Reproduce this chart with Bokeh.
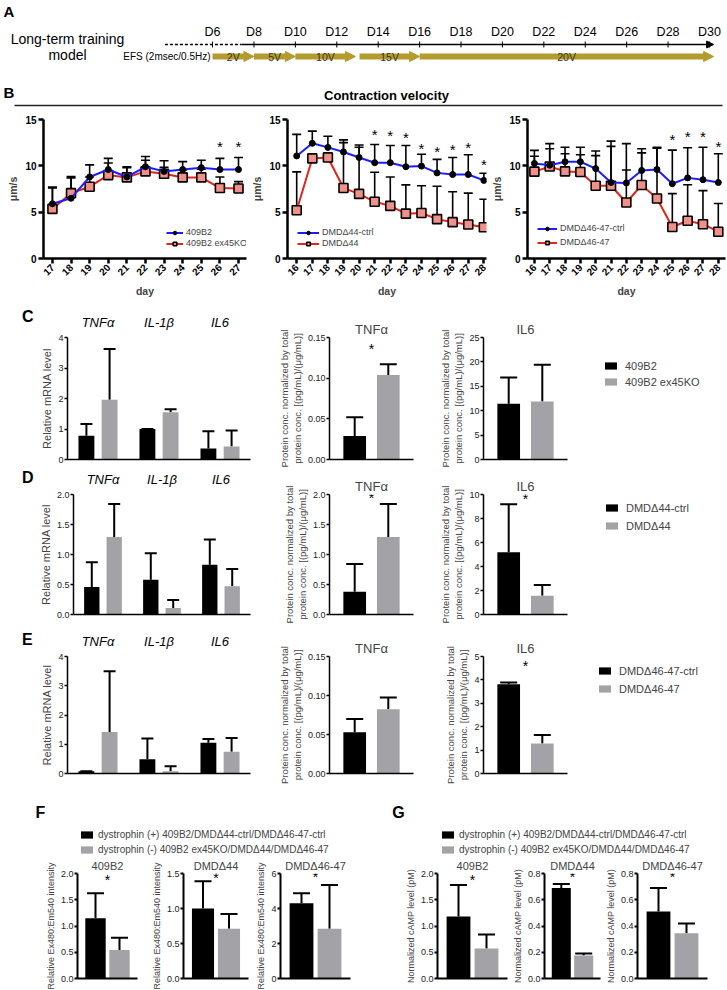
import math
from bokeh.plotting import figure
from bokeh.models import (ColumnDataSource, Range1d, Whisker, TeeHead, Label, LinearAxis, Div,
                          Legend, LegendItem, FixedTicker, Arrow, NormalHead, NumeralTickFormatter)
from bokeh.layouts import column, row
from bokeh.transform import dodge
from bokeh.core.properties import value
from bokeh.embed import file_html
from bokeh.resources import INLINE

FONT = "Liberation Sans"
BLACK = "#000000"
GRAY = "#a3a3a7"
BLUE = "#1c1cff"
RED = "#e2231a"
GOLD = "#b39b2d"
SQUARE_FILL = "#f09088"

# ---------------- Panel A : timeline ----------------
timeline_days = [6, 8, 10, 12, 14, 16, 18, 20, 22, 24, 26, 28, 30]
timeline_labels = ["D6", "D8", "D10", "D12", "D14", "D16", "D18", "D20", "D22", "D24", "D26", "D28", "D30"]
preculture_days = [3.7, 7.4]
timeline_end = 30.2
efs_start = [6, 8, 10, 13.1, 16]
efs_end = [8, 10, 12.9, 16, 30.2]
efs_labels = ["2V", "5V", "10V", "15V", "20V"]

# ---------------- Panel B : contraction velocity ----------------
b1_days = [17, 18, 19, 20, 21, 22, 23, 24, 25, 26, 27]
b1_ctrl = [5.9, 6.5, 8.8, 9.6, 8.8, 9.9, 9.4, 9.6, 9.8, 9.6, 9.6]
b1_ctrl_sd = [1.8, 2.2, 1.3, 1.2, 1.1, 1.1, 1.15, 0.85, 0.8, 1.2, 1.3]
b1_ko = [5.35, 7.05, 7.75, 9.0, 8.75, 9.4, 9.15, 8.75, 8.75, 7.6, 7.55]
b1_ko_sd = [2.25, 1.8, 1.05, 1.3, 1.05, 1.2, 0.7, 0.8, 0.9, 1.2, 0.75]
b1_star_days = [26, 27]
b1_star_y = [12.1, 12.1]
b1_names = ["409B2", "409B2 ex45KO"]

b2_days = [16, 17, 18, 19, 20, 21, 22, 23, 24, 25, 26, 27, 28]
b2_ctrl = [11.07, 12.43, 11.99, 11.5, 10.9, 10.34, 10.34, 9.9, 9.97, 9.24, 9.06, 9.06, 8.43]
b2_ctrl_sd = [2.33, 1.32, 1.21, 1.3, 1.35, 1.96, 1.86, 2.3, 1.28, 1.46, 1.84, 2.14, 0.77]
b2_ko = [5.2, 10.8, 10.9, 7.6, 6.97, 6.12, 5.68, 4.84, 4.91, 4.25, 3.92, 3.67, 3.37]
b2_ko_sd = [4.15, 0.5, 0.5, 4.9, 5.03, 3.18, 3.12, 3.11, 2.94, 3.55, 3.28, 3.38, 3.03]
b2_star_days = [21, 22, 23, 24, 25, 26, 27, 28]
b2_star_y = [13.4, 13.3, 13.1, 11.9, 11.6, 11.8, 12.0, 10.1]
b2_names = ["DMDΔ44-ctrl", "DMDΔ44"]

b3_days = [16, 17, 18, 19, 20, 21, 22, 23, 24, 25, 26, 27, 28]
b3_ctrl = [10.26, 10.07, 10.44, 10.44, 9.7, 8.2, 8.15, 9.5, 9.6, 8.07, 8.7, 8.5, 8.2]
b3_ctrl_sd = [1.41, 2.33, 1.56, 1.56, 1.9, 4.47, 4.25, 2.35, 2.4, 3.63, 3.25, 3.5, 3.1]
b3_ko = [9.37, 9.93, 9.4, 9.33, 7.85, 7.85, 6.04, 7.93, 6.48, 3.4, 4.07, 3.7, 2.89]
b3_ko_sd = [1.67, 1.92, 1.9, 1.87, 3.25, 4.25, 3.51, 3.47, 5.42, 3.6, 3.89, 3.63, 3.04]
b3_star_days = [25, 26, 27, 28]
b3_star_y = [12.8, 13.15, 13.15, 12.1]
b3_names = ["DMDΔ46-47-ctrl", "DMDΔ46-47"]

# ---------------- Panels C-E : cytokines ----------------
genes = ["TNFα", "IL-1β", "IL6"]

c_names = ["409B2", "409B2 ex45KO"]
c_mrna_ctrl = [0.78, 1.0, 0.36]
c_mrna_ctrl_sd = [0.38, 0.0, 0.57]
c_mrna_ko = [1.96, 1.55, 0.43]
c_mrna_ko_sd = [1.66, 0.1, 0.52]
c_tnf = [0.029, 0.104]
c_tnf_sd = [0.023, 0.013]
c_tnf_star = 0.136
c_il6 = [11.4, 11.9]
c_il6_sd = [5.4, 7.5]

d_names = ["DMDΔ44-ctrl", "DMDΔ44"]
d_mrna_ctrl = [0.46, 0.58, 0.83]
d_mrna_ctrl_sd = [0.41, 0.44, 0.42]
d_mrna_ko = [1.29, 0.11, 0.47]
d_mrna_ko_sd = [0.55, 0.13, 0.29]
d_tnf = [0.38, 1.29]
d_tnf_sd = [0.46, 0.55]
d_tnf_star = 1.95
d_il6 = [5.19, 1.57]
d_il6_sd = [4.0, 0.89]
d_il6_star = 9.6

e_names = ["DMDΔ46-47-ctrl", "DMDΔ46-47"]
e_mrna_ctrl = [0.08, 0.49, 1.05]
e_mrna_ctrl_sd = [0.0, 0.71, 0.13]
e_mrna_ko = [1.42, 0.08, 0.74]
e_mrna_ko_sd = [2.08, 0.17, 0.47]
e_tnf = [0.053, 0.0825]
e_tnf_sd = [0.017, 0.015]
e_il6 = [3.81, 1.28]
e_il6_sd = [0.08, 0.37]
e_il6_star = 4.6

# ---------------- Panels F-G ----------------
fg_legend = ["dystrophin (+) 409B2/DMDΔ44-ctrl/DMDΔ46-47-ctrl",
             "dystrophin (-) 409B2 ex45KO/DMDΔ44/DMDΔ46-47"]
f_409 = [1.15, 0.545]; f_409_sd = [0.475, 0.23]; f_409_star = 1.88
f_44 = [1.0, 0.71]; f_44_sd = [0.39, 0.21]; f_44_star = 1.44
f_4647 = [4.3, 2.85]; f_4647_sd = [0.57, 2.49]; f_4647_star = 5.8
g_409 = [1.18, 0.57]; g_409_sd = [0.6, 0.27]; g_409_star = 1.88
g_44 = [0.69, 0.175]; g_44_sd = [0.03, 0.015]; g_44_star = 0.77
g_4647 = [0.51, 0.345]; g_4647_sd = [0.18, 0.075]; g_4647_star = 0.77


# ---------------- helpers ----------------
def lab(p, x, y, text, size, style="normal", align="left", baseline="middle", color="black"):
    p.add_layout(Label(x=x, y=y, x_units="screen", y_units="screen", text=text,
                       text_font=FONT, text_font_size=size, text_font_style=style,
                       text_align=align, text_baseline=baseline, text_color=color))


def blank(width, height, x_range=None, y_range=None):
    p = figure(width=width, height=height,
               x_range=x_range if x_range is not None else Range1d(0, 1),
               y_range=y_range if y_range is not None else Range1d(0, 1),
               x_axis_type=None, y_axis_type=None, output_backend="svg",
               toolbar_location=None, min_border=0)
    p.outline_line_color = None
    return p


def letter_div(letter, h, dx, dy):
    return Div(text=('<div style="position:relative; left:%dpx; top:%dpx; font-family:\'%s\';'
                     ' font-weight:bold; font-size:16px; line-height:18px;">%s</div>')
               % (dx, dy, FONT, letter), width=36, height=h, margin=(0, 0, 0, 0))


def add_hi(vals, sds):
    return [v + s for v, s in zip(vals, sds)]


def legend_block(p, labels, loc, font, gw, gh, lh, sp, standoff):
    # key swatches: single off-screen bars so the legend can draw its swatches
    rb = p.vbar(x=[5], top=[1], width=0.1, fill_color=BLACK, line_color=None)
    rg = p.vbar(x=[5], top=[1], width=0.1, fill_color=GRAY, line_color=None)
    lg = Legend(items=[LegendItem(label=labels[0], renderers=[rb]),
                       LegendItem(label=labels[1], renderers=[rg])],
                location=loc, glyph_width=gw, glyph_height=gh, label_height=lh, spacing=sp,
                padding=0, margin=0, label_standoff=standoff, label_text_font=FONT,
                label_text_font_size=font, background_fill_alpha=0, border_line_color=None)
    p.add_layout(lg)


def style_bar_axes(p, y_ticks, ylabel, fmt, tick_size="9px", label_size="11px", lw=1.5,
                   label_standoff=3):
    xa = p.xaxis[0]
    xa.ticker = FixedTicker(ticks=[])
    xa.axis_line_width = lw
    xa.major_tick_line_color = None
    xa.minor_tick_line_color = None
    xa.major_label_standoff = 0
    ya = p.yaxis[0]
    ya.ticker = FixedTicker(ticks=y_ticks)
    ya.formatter = NumeralTickFormatter(format=fmt)
    ya.axis_line_width = lw
    ya.major_tick_line_width = lw
    ya.major_tick_out = 3
    ya.major_tick_in = 0
    ya.minor_tick_line_color = None
    ya.major_label_text_font = FONT
    ya.major_label_text_font_size = tick_size
    ya.major_label_text_color = "#222222"
    ya.major_label_standoff = 1
    ya.axis_label = ylabel
    ya.axis_label_text_font = FONT
    ya.axis_label_text_font_size = label_size
    ya.axis_label_text_font_style = "normal"
    ya.axis_label_standoff = label_standoff
    p.grid.visible = False
    p.outline_line_color = None


# ---------------- Panel A ----------------
A_H = 82
pa = blank(727, A_H, Range1d(-4.24, 30.87), Range1d(A_H, 0))
src_tl = ColumnDataSource(dict(x=timeline_days, t=timeline_labels))
pa.text(x="x", y=31, text="t", source=src_tl, text_font=value(FONT), text_font_size=value("12.5px"),
        text_align="center", text_baseline="middle")
pa.segment(x0="x", y0=41, x1="x", y1=47, source=src_tl, line_color="black", line_width=1)
pa.line(x=preculture_days, y=[44, 44], line_color="black", line_width=1.5, line_dash="3 2")
pa.add_layout(Arrow(x_start=preculture_days[1], y_start=44, x_end=timeline_end, y_end=44,
                    line_color="black", line_width=1.5, level="underlay",
                    end=NormalHead(size=7, fill_color="black", line_color="black")))
src_efs = ColumnDataSource(dict(x0=efs_start, x1=efs_end,
                                xm=[(a + b) / 2 for a, b in zip(efs_start, efs_end)], t=efs_labels))
pa.add_layout(Arrow(source=src_efs, x_start="x0", y_start=56, x_end="x1", y_end=56,
                    line_color=GOLD, line_width=6, level="underlay",
                    end=NormalHead(size=10, fill_color=GOLD, line_color=GOLD)))
pa.text(x="xm", y=56, text="t", source=src_efs, text_font=value(FONT), text_font_size=value("10.5px"),
        text_align="center", text_baseline="middle", text_color="#3a3520")
lab(pa, 3, A_H - 2, "A", "15px", "bold", baseline="top")
lab(pa, 67, A_H - 38, "Long-term training", "14px", align="center")
lab(pa, 67, A_H - 54, "model", "14px", align="center")
lab(pa, 210, A_H - 56, "EFS (2msec/0.5Hz)", "10px", align="right")

# ---------------- Panel B header ----------------
BH_H = 28
pbh = blank(727, BH_H, Range1d(0, 727), Range1d(BH_H, 0))
pbh.segment(x0=[14], y0=[23], x1=[722], y1=[23], line_color="#222222", line_width=1.5)
lab(pbh, 3, BH_H - 1, "B", "15px", "bold", baseline="top")
lab(pbh, 386, BH_H - 13, "Contraction velocity", "13px", "bold", align="center")


def velocity_panel(width, left, days, ctrl, ctrl_sd, ko, ko_sd, star_days, star_y,
                   x_lo, x_hi, names, leg_xy, leg_gw, leg_sp):
    p = figure(width=width, height=190, x_range=Range1d(x_lo, x_hi), y_range=Range1d(0, 15),
               output_backend="svg", toolbar_location=None, min_border_left=left,
               min_border_right=2, min_border_top=9, min_border_bottom=41)
    p.grid.visible = False
    p.outline_line_color = None
    src_c = ColumnDataSource(dict(x=days, y=ctrl, hi=add_hi(ctrl, ctrl_sd)))
    src_k = ColumnDataSource(dict(x=days, y=ko, hi=add_hi(ko, ko_sd)))
    for s in (src_k, src_c):
        p.add_layout(Whisker(source=s, base="x", lower="y", upper="hi", line_color="black",
                             line_width=1.6,
                             upper_head=TeeHead(size=9, line_color="black", line_width=1.6),
                             lower_head=None))
    lk = p.line("x", "y", source=src_k, line_color=RED, line_width=2)
    mk = p.scatter("x", "y", source=src_k, marker="square", size=9, fill_color=SQUARE_FILL,
                   line_color="black", line_width=1.6)
    lc = p.line("x", "y", source=src_c, line_color=BLUE, line_width=2)
    mc = p.scatter("x", "y", source=src_c, marker="circle", size=6, fill_color="black",
                   line_color="black")
    p.text(x=star_days, y=star_y, text=["*"] * len(star_days), text_font=value(FONT),
           text_font_size=value("15px"), text_align="center", text_baseline="middle")
    lg = Legend(items=[LegendItem(label=names[0], renderers=[lc, mc]),
                       LegendItem(label=names[1], renderers=[lk, mk])],
                location=leg_xy, glyph_width=leg_gw, glyph_height=9, label_height=10,
                spacing=leg_sp, padding=0, margin=0, label_standoff=3, label_text_font=FONT,
                label_text_font_size="9px", background_fill_alpha=0, border_line_color=None)
    p.add_layout(lg)
    xa, ya = p.xaxis[0], p.yaxis[0]
    for ax in (xa, ya):
        ax.axis_line_width = 2.5
        ax.major_tick_line_width = 2.5
        ax.major_tick_out = 5
        ax.major_tick_in = 0
        ax.minor_tick_line_color = None
        ax.major_label_text_font = FONT
        ax.major_label_text_font_style = "bold"
        ax.major_label_text_font_size = "10px"
        ax.major_label_text_color = "black"
        ax.major_label_standoff = 2
        ax.axis_label_text_font = FONT
        ax.axis_label_text_font_style = "bold"
        ax.axis_label_text_font_size = "10.5px"
        ax.axis_label_standoff = 3
    xa.ticker = FixedTicker(ticks=days)
    xa.major_label_orientation = math.pi / 4
    xa.axis_label = "day"
    ya.ticker = FixedTicker(ticks=[0, 5, 10, 15])
    ya.axis_label = "μm/s"
    return p


pb1 = velocity_panel(248, 43, b1_days, b1_ctrl, b1_ctrl_sd, b1_ko, b1_ko_sd, b1_star_days,
                     b1_star_y, 16.52, 27.43, b1_names, (123, 10), 17, 1)
pb2 = velocity_panel(240, 37, b2_days, b2_ctrl, b2_ctrl_sd, b2_ko, b2_ko_sd, b2_star_days,
                     b2_star_y, 15.41, 28.17, b2_names, (10, 10), 22, 1)
pb3 = velocity_panel(239, 35, b3_days, b3_ctrl, b3_ctrl_sd, b3_ko, b3_ko_sd, b3_star_days,
                     b3_star_y, 15.55, 28.47, b3_names, (10, 11), 20, 4)


# ---------------- Panels C-E ----------------
def mrna_panel(h, top, bottom, ctrl, ctrl_sd, ko, ko_sd, y_end, y_ticks, fmt):
    pos = list(range(len(genes)))
    p = figure(width=226, height=h, x_range=Range1d(-0.5, len(genes) - 0.5),
               y_range=Range1d(0, y_end), output_backend="svg", toolbar_location=None,
               min_border_left=31, min_border_right=12, min_border_top=top,
               min_border_bottom=bottom)
    src = ColumnDataSource(dict(pos=pos, ctrl=ctrl, ctrl_hi=add_hi(ctrl, ctrl_sd),
                                ko=ko, ko_hi=add_hi(ko, ko_sd)))
    for off, col, v, hi in ((-0.19, BLACK, "ctrl", "ctrl_hi"), (0.19, GRAY, "ko", "ko_hi")):
        p.vbar(x=dodge("pos", off), top=v, width=0.26, source=src, fill_color=col,
               line_color=None)
        p.add_layout(Whisker(source=src, base=dodge("pos", off), lower=v, upper=hi,
                             line_color="black", line_width=2,
                             upper_head=TeeHead(size=12, line_color="black", line_width=2),
                             lower_head=None))
    style_bar_axes(p, y_ticks, "Relative mRNA level", fmt, label_size="11px", label_standoff=2)
    top_ax = LinearAxis(ticker=FixedTicker(ticks=pos),
                        major_label_overrides={i: g for i, g in zip(pos, genes)},
                        axis_line_color=None, major_tick_line_color=None,
                        minor_tick_line_color=None, major_label_text_font=FONT,
                        major_label_text_font_style="italic", major_label_text_font_size="13px",
                        major_label_text_color="black", major_label_standoff=2)
    p.add_layout(top_ax, "above")
    return p


def pair_panel(w, h, left, right, top, bottom, vals, sds, y_end, y_ticks, fmt, title, ylabel,
               star_y, bar_w, cap, tick_size, label_size, title_size, title_standoff, lw=1.5):
    pos = [0, 1]
    p = figure(width=w, height=h, x_range=Range1d(-0.75, 1.75),
               y_range=Range1d(0, y_end), output_backend="svg", toolbar_location=None,
               min_border_left=left, min_border_right=right, min_border_top=top,
               min_border_bottom=bottom)
    src = ColumnDataSource(dict(pos=pos, top=vals, hi=add_hi(vals, sds), color=[BLACK, GRAY]))
    p.vbar(x="pos", top="top", width=bar_w, source=src, fill_color="color", line_color=None)
    p.add_layout(Whisker(source=src, base="pos", lower="top", upper="hi", line_color="black",
                         line_width=2,
                         upper_head=TeeHead(size=cap, line_color="black", line_width=2),
                         lower_head=None))
    if star_y is not None:
        p.text(x=[sum(pos) / 2], y=[star_y], text=["*"], text_font=value(FONT),
               text_font_size=value("14px"), text_align="center", text_baseline="middle")
    p.title.text = title
    p.title.align = "center"
    p.title.text_font = FONT
    p.title.text_font_style = "normal"
    p.title.text_font_size = title_size
    p.title.standoff = title_standoff
    style_bar_axes(p, y_ticks, ylabel, fmt, tick_size=tick_size, label_size=label_size, lw=lw,
                   label_standoff=2)
    return p


PROT = "Protein conc. normalized by total\nprotein conc. [(pg/mL)/(μg/mL)]"


def cytokine_row(h, top, bottom, names, mrna, tnf, tnf_sd, tnf_end, tnf_ticks, tnf_fmt, tnf_star,
                 il6, il6_sd, il6_end, il6_ticks, il6_star, letter, letter_dy, legend_loc, leg_sp):
    ld = letter_div(letter, h, 22, letter_dy)
    m = mrna_panel(h, top, bottom, *mrna)
    t = pair_panel(168, h, 67, 17, top, bottom, tnf, tnf_sd, tnf_end, tnf_ticks, tnf_fmt,
                   "TNFα", PROT, tnf_star, 0.675, 17, "9px", "9.5px", "13px", 2)
    i = pair_panel(140, h, 53, 3, top, bottom, il6, il6_sd, il6_end, il6_ticks, "0",
                   "IL6", PROT, il6_star, 0.675, 17, "9px", "9.5px", "13px", 2)
    lf = blank(157, h)
    legend_block(lf, names, legend_loc, "11px", 15, 9, 13, leg_sp, 7)
    return row(ld, m, t, i, lf, spacing=0)


row_c = cytokine_row(168, 37, 9, c_names,
                     (c_mrna_ctrl, c_mrna_ctrl_sd, c_mrna_ko, c_mrna_ko_sd, 4, [0, 1, 2, 3, 4], "0"),
                     c_tnf, c_tnf_sd, 0.15, [0, 0.05, 0.10, 0.15], "0.00", c_tnf_star,
                     c_il6, c_il6_sd, 25, [0, 5, 10, 15, 20, 25], None, "C", 8, (33, 71), 3)
row_d = cytokine_row(162, 24, 16, d_names,
                     (d_mrna_ctrl, d_mrna_ctrl_sd, d_mrna_ko, d_mrna_ko_sd, 2, [0, 0.5, 1, 1.5, 2],
                      "0.0"),
                     d_tnf, d_tnf_sd, 2, [0, 0.5, 1, 1.5, 2], "0.0", d_tnf_star,
                     d_il6, d_il6_sd, 10, [0, 2, 4, 6, 8, 10], d_il6_star, "D", 1, (34, 82), 5)
row_e = cytokine_row(155, 21, 12, e_names,
                     (e_mrna_ctrl, e_mrna_ctrl_sd, e_mrna_ko, e_mrna_ko_sd, 4, [0, 1, 2, 3, 4], "0"),
                     e_tnf, e_tnf_sd, 0.15, [0, 0.05, 0.10, 0.15], "0.00", None,
                     e_il6, e_il6_sd, 5, [0, 1, 2, 3, 4, 5], e_il6_star, "E", 1, (27, 78), 5)

# ---------------- Panels F-G header (letters + legends) ----------------
FGH_H = 71
pfg = blank(727, FGH_H)
legend_block(pfg, fg_legend, (79, 1), "10px", 15, 9, 12, 3, 4)
legend_block(pfg, fg_legend, (440, 1), "10px", 15, 9, 12, 3, 4)
lab(pfg, 40, FGH_H - 27, "F", "16px", "bold", align="center")
lab(pfg, 398, FGH_H - 27, "G", "16px", "bold", align="center")

EX = "Relative Ex480:Em540 intensity"
CAMP = "Normalized cAMP level (pM)"
FGP, FGT, FGB = 134, 17, 12
fg_args = dict(bar_w=0.85, cap=17, tick_size="9px", label_size="9px", title_size="11px",
               title_standoff=3, lw=2)
f1 = pair_panel(140, FGP, 77, 3, FGT, FGB, f_409, f_409_sd, 2, [0, 0.5, 1, 1.5, 2], "0.0",
                "409B2", EX, f_409_star, **fg_args)
f2 = pair_panel(110, FGP, 43, 2, FGT, FGB, f_44, f_44_sd, 1.5, [0, 0.5, 1, 1.5], "0.0",
                "DMDΔ44", EX, f_44_star, **fg_args)
f3 = pair_panel(102, FGP, 30, 2, FGT, FGB, f_4647, f_4647_sd, 6, [0, 2, 4, 6], "0",
                "DMDΔ46-47", EX, f_4647_star, **fg_args)
g1 = pair_panel(157, FGP, 85, 2, FGT, FGB, g_409, g_409_sd, 2, [0, 0.5, 1, 1.5, 2], "0.0",
                "409B2", CAMP, g_409_star, **fg_args)
g2 = pair_panel(93, FGP, 29, 2, FGT, FGB, g_44, g_44_sd, 0.8, [0, 0.2, 0.4, 0.6, 0.8], "0.0",
                "DMDΔ44", CAMP, g_44_star, **fg_args)
g3 = pair_panel(125, FGP, 31, 20, FGT, FGB, g_4647, g_4647_sd, 0.8, [0, 0.2, 0.4, 0.6, 0.8],
                "0.0", "DMDΔ46-47", CAMP, g_4647_star, **fg_args)

layout = column(pa, pbh, row(pb1, pb2, pb3, spacing=0), row_c, row_d, row_e, pfg,
                row(f1, f2, f3, g1, g2, g3, spacing=0), spacing=0)

open("out.html", "w").write(file_html(layout, INLINE, "Figure"))
